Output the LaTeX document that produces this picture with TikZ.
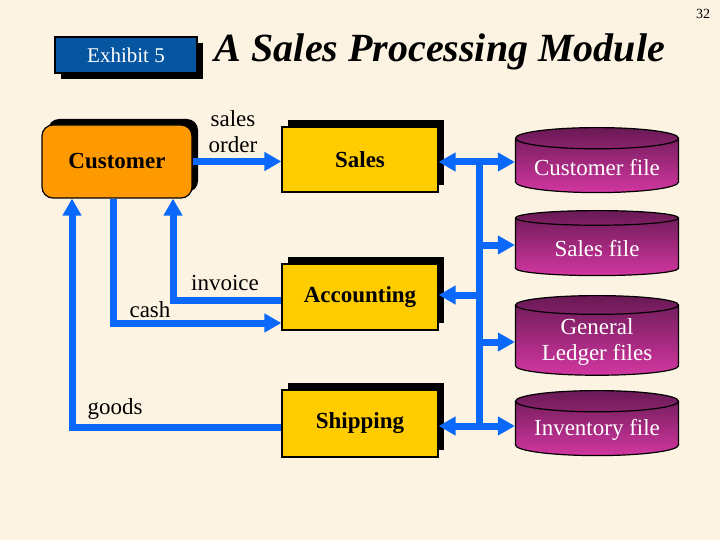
\documentclass[tikz,border=0pt]{standalone}
\usepackage{fontspec}
\setmainfont{Liberation Serif}
\usetikzlibrary{shapes.geometric, arrows.meta, shadows}

\definecolor{paper}{RGB}{253,243,227}
\definecolor{flowblue}{RGB}{10,105,250}
\definecolor{boxyellow}{RGB}{255,204,0}
\definecolor{custorange}{RGB}{255,153,0}
\definecolor{exhibitblue}{RGB}{5,85,160}
\definecolor{filetop}{RGB}{105,25,85}
\definecolor{filebottom}{RGB}{210,55,160}

\tikzstyle{process} = [rectangle,
minimum width=156pt,
minimum height=66pt,
text centered,
draw=black, line width=1.2pt,
fill=boxyellow,
font=\fontsize{23}{26}\selectfont\bfseries,
drop shadow={shadow xshift=6pt, shadow yshift=7pt, fill=black, opacity=1}]
\tikzstyle{entity} = [rectangle, rounded corners=11pt,
minimum width=150pt,
minimum height=73pt,
text centered,
draw=black, line width=1.2pt,
fill=custorange,
font=\fontsize{23}{26}\selectfont\bfseries,
drop shadow={shadow xshift=6pt, shadow yshift=6pt, fill=black, opacity=1}]
\tikzstyle{datafile} = [cylinder, shape border rotate=90, aspect=0.16,
anchor=north,
minimum width=163pt,
minimum height=65pt,
draw=black, line width=1.2pt,
top color=filetop, bottom color=filebottom,
text=white, align=center,
font=\fontsize{23}{26}\selectfont]
\tikzstyle{flowlabel} = [font=\fontsize{23}{26}\selectfont, align=center]
\tikzstyle{flow} = [line width=7pt, draw=flowblue]
\tikzstyle{arrow} = [flow, -{Triangle[width=18pt,length=17pt]}]

\begin{document}
\begin{tikzpicture}[x=1pt, y=-1pt]

\useasboundingbox (0,0) rectangle (720,540);
\fill[paper] (0,0) rectangle (720,540);

\node (pageno) at (703,14) [font=\fontsize{14}{16}\selectfont] {32};
\node (exhibit) at (126,55) [rectangle, minimum width=142pt, minimum height=36pt,
  draw=black, line width=1.2pt, fill=exhibitblue, text=white,
  font=\fontsize{21}{24}\selectfont,
  drop shadow={shadow xshift=6pt, shadow yshift=-6pt, fill=black, opacity=1}] {Exhibit 5};
\node (title) at (440,52) [font=\fontsize{40}{44}\selectfont\bfseries\itshape] {A Sales Processing Module};

\node (customer) at (117,161.5) [entity] {Customer};
\node (sales) at (360,159.5) [process, minimum height=65pt] {Sales};
\node (accounting) at (360,297) [process] {Accounting};
\node (shipping) at (360,423.5) [process, minimum height=67pt] {Shipping};

\node (custfile) at (597,127) [datafile] {Customer file};
\node (salesfile) at (597,210) [datafile] {Sales file};
\node (glfile) at (597,295) [datafile, minimum height=77pt] {General\\Ledger files};
\node (invfile) at (597,390) [datafile] {Inventory file};

\node (lblorder) at (233,132) [flowlabel] {sales\\order};
\node (lblinvoice) at (225,283) [flowlabel] {invoice};
\node (lblcash) at (150,310) [flowlabel] {cash};
\node (lblgoods) at (115,409) [flowlabel] {goods};

\coordinate (inv) at (173,300);
\coordinate (csh) at (113,323);
\coordinate (gds) at (72,427);
\coordinate (busT) at (479,162);
\coordinate (rowS) at (479,245);
\coordinate (rowA) at (479,295);
\coordinate (rowG) at (479,342);
\coordinate (busB) at (479,426);

\draw [arrow] (customer.east) -- (customer.east -| sales.west);
\draw [arrow] (accounting.west |- inv) -| (inv |- customer.south);
\draw [arrow] (csh |- customer.south) |- (accounting.west |- csh);
\draw [arrow] (shipping.west |- gds) -| (gds |- customer.south);

\draw [flow] (busT) -- (busB);
\draw [arrow] (busT) -- (sales.east |- busT);
\draw [arrow] (busT) -- (custfile.west |- busT);
\draw [arrow] (rowS) -- (salesfile.west |- rowS);
\draw [arrow] (rowA) -- (accounting.east |- rowA);
\draw [arrow] (rowG) -- (glfile.west |- rowG);
\draw [arrow] (busB) -- (shipping.east |- busB);
\draw [arrow] (busB) -- (invfile.west |- busB);

\end{tikzpicture}
\end{document}
